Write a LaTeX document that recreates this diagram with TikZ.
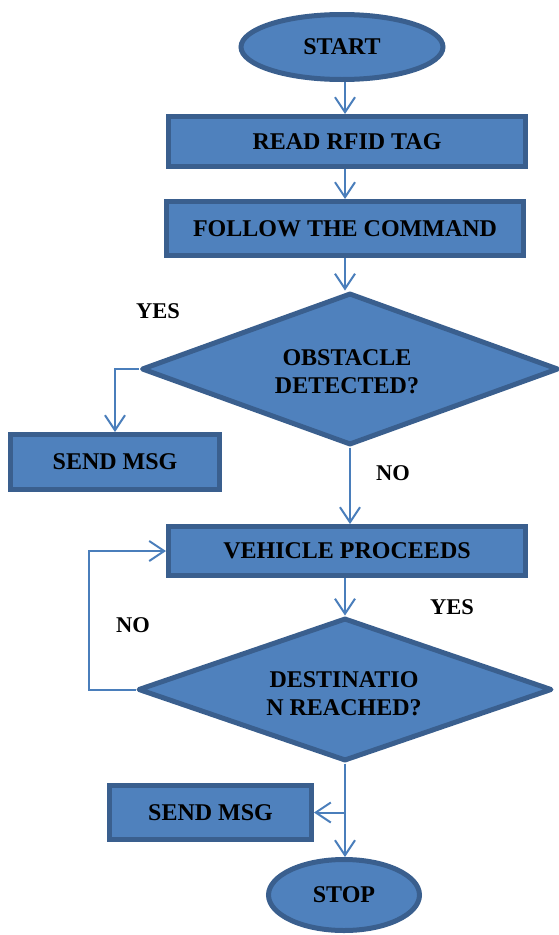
\documentclass[tikz,border=0pt]{standalone}
\usepackage{fontspec}
\setmainfont{Liberation Serif}
\usetikzlibrary{shapes.geometric,arrows.meta}
\definecolor{fillblue}{HTML}{4F81BD}
\definecolor{edgeblue}{HTML}{3A5F8E}
\definecolor{arrowblue}{HTML}{4A7EBB}
\begin{document}
\begin{tikzpicture}[x=1pt,y=-1pt,
  txt/.style={font=\fontsize{24}{28}\selectfont\bfseries, text=black},
  box/.style={txt, rectangle, draw=edgeblue, fill=fillblue, line width=5pt, inner sep=0pt},
  term/.style={txt, ellipse, draw=edgeblue, fill=fillblue, line width=5pt, inner sep=0pt},
  dec/.style={diamond, draw=edgeblue, fill=fillblue, line width=5pt, inner sep=0pt, line join=round},
  dectxt/.style={txt, align=center, inner sep=0pt},
  conn/.style={draw=arrowblue, line width=2pt, -{Straight Barb[length=15pt,width=20pt]}},
  lbl/.style={font=\fontsize{22.5}{27}\selectfont\bfseries, text=black}]
\useasboundingbox (0,0) rectangle (559,935);
\coordinate (col) at (345,0);
\coordinate (loopx) at (89,0);
% nodes
\node[term, minimum width=202pt, minimum height=65pt] (start) at (342,47) {START};
\node[box, minimum width=357pt, minimum height=50pt] (read) at (347,141.5) {READ RFID TAG};
\node[box, minimum width=357pt, minimum height=54pt] (follow) at (345,228.5) {FOLLOW THE COMMAND};
\node[dec, minimum width=417pt, minimum height=152pt] (obst) at (350,369) {};
\node[dectxt] (obsttxt) at (347,372) {OBSTACLE\\DETECTED?};
\node[box, minimum width=209pt, minimum height=55pt] (send1) at (115,462) {SEND MSG};
\node[box, minimum width=357pt, minimum height=49pt] (veh) at (347,551) {VEHICLE PROCEEDS};
\node[dec, minimum width=414pt, minimum height=143pt] (dest) at (345,689.5) {};
\node[dectxt] (desttxt) at (344,694) {DESTINATIO\\N REACHED?};
\node[box, minimum width=202pt, minimum height=54pt] (send2) at (210.5,812.5) {SEND MSG};
\node[term, minimum width=151pt, minimum height=71pt] (stop) at (344,895) {STOP};
% labels
\node[lbl] (yes1) at (158,311) {YES};
\node[lbl] (no1) at (393,473) {NO};
\node[lbl] (yes2) at (452,607) {YES};
\node[lbl] (no2) at (133,625) {NO};
% connectors
\draw[conn] (col |- start.south) -- (col |- read.north);
\draw[conn] (col |- read.south) -- (col |- follow.north);
\draw[conn] (col |- follow.south) -- (col |- obst.north);
\draw[conn] (obst.west) -| (send1.north);
\draw[conn] (obst.south) -- (obst.south |- veh.north);
\draw[conn] (dest.north |- veh.south) -- (dest.north);
\draw[conn] (dest.west) -- (loopx |- dest.west) |- (veh.west);
\draw[conn] (dest.south) -- (dest.south |- stop.north);
\coordinate (br) at (dest.south |- send2.east);
\draw[conn] (br) -- (send2.east);
\end{tikzpicture}
\end{document}
